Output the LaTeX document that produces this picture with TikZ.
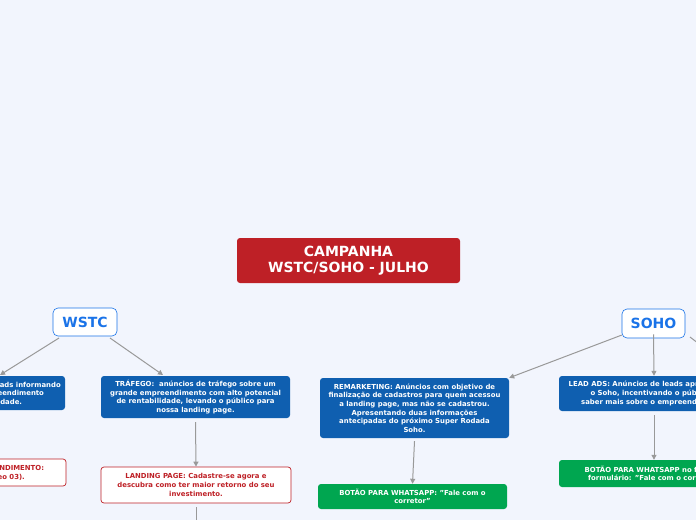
\documentclass[tikz,border=0pt]{standalone}
\usepackage{fontspec}
\setmainfont{DejaVu Sans}
\usetikzlibrary{arrows.meta}
\definecolor{bg}{HTML}{F2F5FD}
\definecolor{bl}{HTML}{0F5FB0}
\definecolor{rd}{HTML}{BE2026}
\definecolor{gr}{HTML}{00A650}
\definecolor{tb}{HTML}{1A73E8}
\begin{document}
\begin{tikzpicture}[x=1pt,y=-1pt,
 box/.style={rounded corners=3pt,align=center,font=\bfseries\fontsize{6.9}{8.6}\selectfont,inner sep=2pt},
 bluebox/.style={box,fill=bl,text=white},
 redbox/.style={box,fill=white,draw=rd,text=rd,line width=0.7pt},
 greenbox/.style={box,fill=gr,text=white},
 main/.style={rounded corners=3pt,align=center,font=\bfseries\fontsize{14}{15.5}\selectfont,fill=rd,text=white},
 topic/.style={rounded corners=5pt,draw=tb,fill=white,text=tb,font=\bfseries\fontsize{14}{15}\selectfont,line width=0.6pt},
 conn/.style={draw=gray!80,line width=1pt,-{Triangle[length=5pt,width=5pt]}}]
\clip (0,0) rectangle (696,520);
\fill[bg] (0,0) rectangle (696,520);
\node[main,minimum width=223pt,minimum height=45pt] (t) at (348.5,260.5) {CAMPANHA\\WSTC/SOHO - JULHO};
\node[topic,minimum width=64pt,minimum height=28pt] (w) at (85,322) {WSTC};
\node[topic,minimum width=63pt,minimum height=29pt] (s) at (653.5,323.5) {SOHO};
\node[bluebox,minimum width=170pt,minimum height=34pt] (l1) at (-20,393) {LEAD ADS: Anúncios de leads informando\\sobre o grande empreendimento\\de alta rentabilidade.};
\node[bluebox,minimum width=189pt,minimum height=42pt] (tr) at (195.5,397) {TRÁFEGO:~ anúncios de tráfego sobre um\\grande empreendimento com alto potencial\\de rentabilidade, levando o público para\\nossa landing page.};
\node[redbox,minimum width=170pt,minimum height=27pt] (l2) at (-19,472.5) {FORMULÁRIO DE ATENDIMENTO:\\Saiba mais (Vídeo 03).};
\node[redbox,minimum width=190pt,minimum height=36pt] (lp) at (196,485) {LANDING PAGE: Cadastre-se agora e\\descubra como ter maior retorno do seu\\investimento.};
\node[bluebox,minimum width=189pt,minimum height=60pt] (rm) at (414.5,408) {REMARKETING: Anúncios com objetivo de\\finalização de cadastros para quem acessou\\a landing page, mas não se cadastrou.\\Apresentando duas informações\\antecipadas do próximo Super Rodada\\Soho.};
\node[greenbox,minimum width=189pt,minimum height=25pt] (g1) at (412.5,496.5) {BOTÃO PARA WHATSAPP: "Fale com o\\corretor"};
\node[bluebox,minimum width=190pt,minimum height=35pt] (la) at (654,393.5) {LEAD ADS: Anúncios de leads apresentando\\o Soho, incentivando o público a\\saber mais sobre o empreendimento.};
\node[greenbox,minimum width=190pt,minimum height=27pt] (g2) at (654,473.5) {BOTÃO PARA WHATSAPP no final do\\formulário: "Fale com o corretor"};
\coordinate (e1) at (0,375);
\coordinate (e2) at (720,360);
\coordinate (e3) at (196,520);
\draw[conn] (59,338) -- (e1);
\draw[conn] (110,338) -- (163,375);
\draw[conn] (s.200) -- (rm.north east);
\draw[conn] (s.south) ++(0,4pt) -- (la.north);
\draw[draw=gray!80,line width=1pt] (690,337) -- (e2);
\draw[conn] ([yshift=-4pt]tr.south) -- (lp.north);
\draw[conn] ([yshift=-3pt]rm.south) -- (g1.north);
\draw[conn] ([yshift=-4pt]la.south) -- (g2.north);
\draw[draw=gray!80,line width=1pt] ([yshift=-4pt]lp.south) -- (e3);
\end{tikzpicture}
\end{document}
